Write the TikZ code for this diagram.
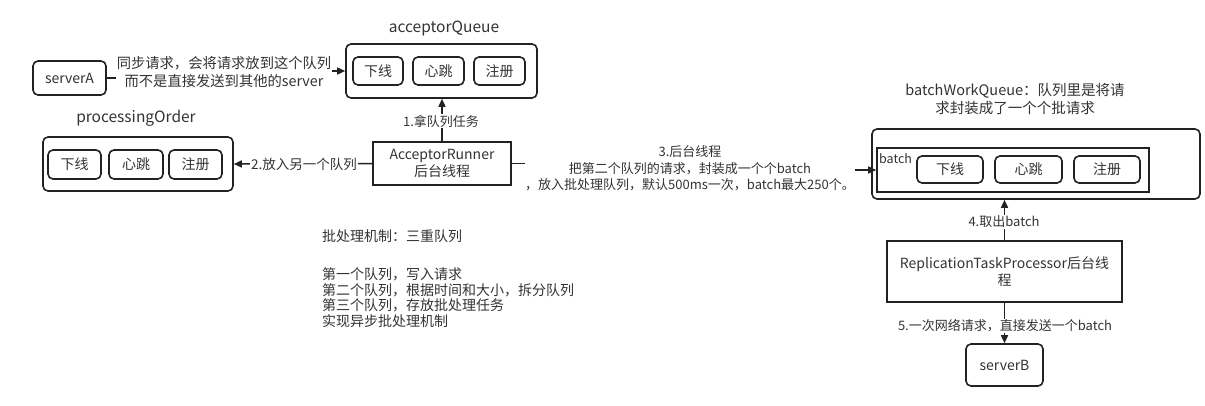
\documentclass[tikz,border=0pt]{standalone}
\usepackage{fontspec}
\setmainfont{Noto Sans CJK SC}
\usetikzlibrary{arrows.meta}
\definecolor{txt}{HTML}{333333}
\definecolor{ln}{HTML}{222222}
\tikzset{
  base/.style={draw=ln, line width=1.6pt, text=txt, inner sep=0pt, align=center, font=\fontsize{14}{16.5}\selectfont},
  rbox/.style={base, rounded corners=5pt},
  sbox/.style={base},
  conn/.style={draw=ln, line width=1.5pt, -{Triangle[length=8pt,width=7pt]}},
  lbl/.style={fill=white, text=txt, inner sep=1pt, align=center, font=\fontsize{13}{16.5}\selectfont},
  ttl/.style={text=txt, inner sep=0pt, align=center, font=\fontsize{14.5}{18}\selectfont},
}
\begin{document}
\begin{tikzpicture}[x=1pt,y=-1pt]
\useasboundingbox[fill=white] (0,0) rectangle (1205,406);

% serverA
\node[rbox, minimum width=73pt, minimum height=34pt] (serverA) at (69.5,78) {serverA};

% acceptorQueue
\node[ttl, font=\fontsize{15.5}{18}\selectfont] (aqt) at (444,28) {acceptorQueue};
\node[rbox, minimum width=191pt, minimum height=54pt] (aq) at (441.5,71) {};
\node[rbox, minimum width=50pt, minimum height=28pt] (aq1) at (378,71) {下线};
\node[rbox, minimum width=51pt, minimum height=28pt] (aq2) at (438.5,71) {心跳};
\node[rbox, minimum width=51pt, minimum height=28pt] (aq3) at (499.5,71) {注册};

% processingOrder
\node[ttl, font=\fontsize{15.5}{18}\selectfont] (pot) at (136,118) {processingOrder};
\node[rbox, minimum width=190pt, minimum height=54pt] (po) at (138,164) {};
\node[rbox, minimum width=53pt, minimum height=29pt] (po1) at (74.5,164.5) {下线};
\node[rbox, minimum width=54pt, minimum height=29pt] (po2) at (136,164.5) {心跳};
\node[rbox, minimum width=53pt, minimum height=29pt] (po3) at (195.5,164.5) {注册};

% AcceptorRunner
\node[sbox, minimum width=138pt, minimum height=43pt] (runner) at (442,163.5) {AcceptorRunner\\后台线程};

% batchWorkQueue
\node[ttl] (bwqt) at (1015,99) {batchWorkQueue：队列里是将请\\求封装成了一个个批请求};
\node[rbox, minimum width=328pt, minimum height=70pt] (bwq) at (1036,164) {};
\node[sbox, minimum width=272pt, minimum height=44pt] (batch) at (1013,170) {};
\node[text=txt, inner sep=0pt, anchor=west, font=\fontsize{12.5}{14}\selectfont] (batchlbl) at (879,159) {batch};
\node[rbox, minimum width=66pt, minimum height=27pt] (b1) at (950,169.5) {下线};
\node[rbox, minimum width=67pt, minimum height=27pt] (b2) at (1028.5,169.5) {心跳};
\node[rbox, minimum width=66pt, minimum height=27pt] (b3) at (1107,169.5) {注册};

% ReplicationTaskProcessor
\node[sbox, minimum width=235pt, minimum height=61pt] (rtp) at (1004.5,271.5) {ReplicationTaskProcessor后台线\\程};

% serverB
\node[rbox, minimum width=77pt, minimum height=42pt] (serverB) at (1004.5,365) {serverB};

% notes
\node[text=txt, inner sep=0pt, anchor=north west, align=left, font=\fontsize{14}{15.5}\selectfont] (notes) at (322,229.5)
 {批处理机制：三重队列\\[23pt]第一个队列，写入请求\\第二个队列，根据时间和大小，拆分队列\\第三个队列，存放批处理任务\\实现异步批处理机制};

% connectors
\coordinate (m1) at (226,78);
\draw[conn] (serverA.east) -- (m1) |- (aq.west);
\node[lbl, font=\fontsize{14.3}{18}\selectfont] (l0) at (224,72.5) {同步请求，会将请求放到这个队列\\而不是直接发送到其他的server};

\draw[conn] (runner.north) -- (runner.north |- aq.south);
\node[lbl] (l1) at (441,121) {1.拿队列任务};

\draw[conn] (runner.west) -- (po.east);
\node[lbl, font=\fontsize{13.5}{16}\selectfont] (l2) at (304,164) {2.放入另一个队列};

\coordinate (m3) at (690,163.5);
\draw[conn] (runner.east) -- (m3) |- (batch.west);
\node[lbl, inner xsep=0pt] (l3) at (690,168.5) {3.后台线程\\把第二个队列的请求，封装成一个个batch\\，放入批处理队列，默认500ms一次，batch最大250个。};

\draw[conn] (rtp.north) -- (rtp.north |- bwq.south);
\node[lbl] (l4) at (1004,222) {4.取出batch};

\draw[conn] (rtp.south) -- (serverB.north);
\node[lbl] (l5) at (1005,326) {5.一次网络请求，直接发送一个batch};
\end{tikzpicture}
\end{document}
